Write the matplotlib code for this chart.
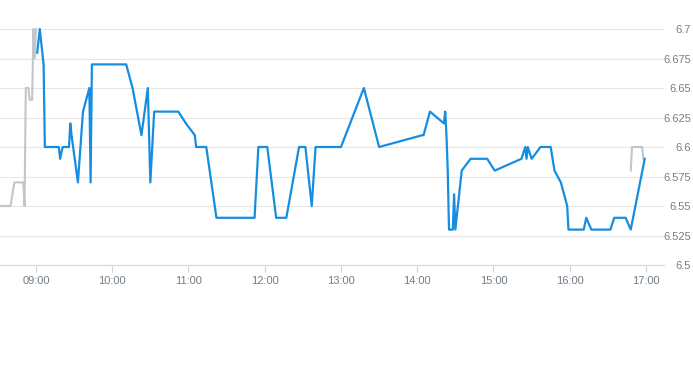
import pandas as pd
import matplotlib.pyplot as plt
import matplotlib.dates as mdates

# pre-market (grey)
pre_times = ["08:31", "08:40", "08:43", "08:50", "08:51", "08:52", "08:54", "08:55",
             "08:57", "08:58", "08:59", "09:00"]
pre_vals = [6.55, 6.55, 6.57, 6.57, 6.55, 6.65, 6.65, 6.64,
            6.64, 6.70, 6.675, 6.70]

# regular session (blue)
reg_times = ["09:01", "09:03", "09:06", "09:07", "09:18", "09:19", "09:21", "09:26",
             "09:27", "09:28", "09:33", "09:37", "09:42", "09:43", "09:44", "10:11",
             "10:16", "10:23", "10:28", "10:30", "10:33", "10:52", "10:58", "11:05",
             "11:06", "11:14", "11:22", "11:52", "11:55", "12:02", "12:09", "12:17",
             "12:27", "12:32", "12:37", "12:40", "13:00", "13:18", "13:30", "14:04",
             "14:05", "14:10", "14:21", "14:22", "14:23", "14:24", "14:25", "14:28",
             "14:29", "14:30", "14:35", "14:42", "14:55", "15:01", "15:22", "15:25",
             "15:26", "15:27", "15:30", "15:37", "15:45", "15:48", "15:53", "15:58",
             "15:59", "16:11", "16:13", "16:17", "16:32", "16:35", "16:44", "16:48",
             "16:59"]
reg_vals = [6.68, 6.70, 6.67, 6.60, 6.60, 6.59, 6.60, 6.60,
            6.62, 6.61, 6.57, 6.63, 6.65, 6.57, 6.67, 6.67,
            6.65, 6.61, 6.65, 6.57, 6.63, 6.63, 6.62, 6.61,
            6.60, 6.60, 6.54, 6.54, 6.60, 6.60, 6.54, 6.54,
            6.60, 6.60, 6.55, 6.60, 6.60, 6.65, 6.60, 6.61,
            6.61, 6.63, 6.62, 6.63, 6.61, 6.58, 6.53, 6.53,
            6.56, 6.53, 6.58, 6.59, 6.59, 6.58, 6.59, 6.60,
            6.59, 6.60, 6.59, 6.60, 6.60, 6.58, 6.57, 6.55,
            6.53, 6.53, 6.54, 6.53, 6.53, 6.54, 6.54, 6.53,
            6.59]

# after-hours (grey)
post_times = ["16:48", "16:49", "16:57", "16:58"]
post_vals = [6.58, 6.60, 6.60, 6.59]

y_ticks = [6.5, 6.525, 6.55, 6.575, 6.6, 6.625, 6.65, 6.675, 6.7]
y_labels = ["6.5", "6.525", "6.55", "6.575", "6.6", "6.625", "6.65", "6.675", "6.7"]
x_ticks = ["09:00", "10:00", "11:00", "12:00", "13:00", "14:00", "15:00", "16:00", "17:00"]


def to_dt(lst):
    return pd.to_datetime(["2024-01-02 " + t for t in lst])


plt.rcParams['font.family'] = ['Liberation Sans', 'DejaVu Sans']

fig = plt.figure(figsize=(6.93, 3.65), dpi=100)
ax = fig.add_axes([0, 1 - 265 / 365, 664 / 693, (265 - 29) / 365])

blue = '#168ee0'
grey = '#c0c6cc'
ax.plot(to_dt(pre_times), pre_vals, color=grey, lw=1.5, clip_on=False)
ax.plot(to_dt(post_times), post_vals, color=grey, lw=1.5, clip_on=False)
ax.plot(to_dt(reg_times), reg_vals, color=blue, lw=1.6, clip_on=False)

ax.set_xlim(pd.Timestamp("2024-01-02 08:31:42"), pd.Timestamp("2024-01-02 17:14:10"))
ax.set_ylim(6.5, 6.7)

txt = '#747d87'
ax.set_yticks(y_ticks)
ax.set_yticklabels(y_labels)
ax.yaxis.tick_right()
ax.tick_params(axis='y', length=0, pad=19.5, labelsize=8, labelcolor=txt)
for lab in ax.get_yticklabels():
    lab.set_horizontalalignment('right')

ax.set_xticks(to_dt(x_ticks))
ax.xaxis.set_major_formatter(mdates.DateFormatter('%H:%M'))
ax.tick_params(axis='x', length=5, width=0.8, color='#ccd6eb', pad=3,
               labelsize=8, labelcolor=txt)

for y in y_ticks[1:]:
    ax.axhline(y, color='#e6e6e6', lw=0.8, zorder=0)

for s in ['top', 'right', 'left']:
    ax.spines[s].set_visible(False)
ax.spines['bottom'].set_color('#ccd6eb')
ax.spines['bottom'].set_linewidth(0.8)

fig.savefig("out.png", dpi=100)
